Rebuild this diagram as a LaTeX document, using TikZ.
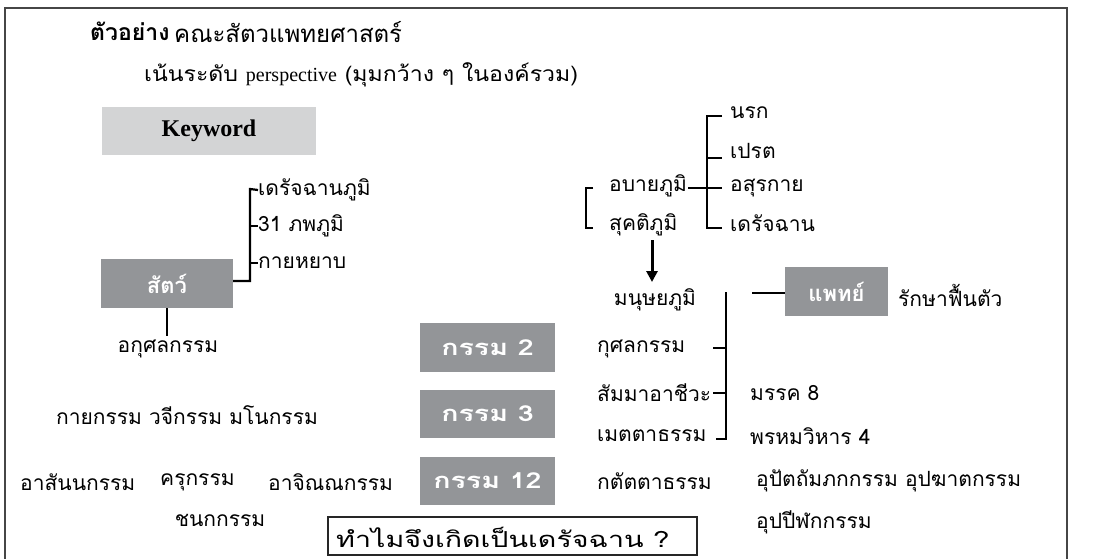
\documentclass[tikz,border=0pt]{standalone}
\usepackage{fontspec}
\usetikzlibrary{arrows.meta,calc}
\newfontfamily\thai[Script=Thai]{Loma}
\newfontfamily\thaiw[Script=Thai,FakeStretch=1.1]{Loma}
\newfontfamily\thaiww[Script=Thai,FakeStretch=1.3]{Loma}
\newfontfamily\latserif{Liberation Serif}
\definecolor{boxdark}{RGB}{147,149,152}
\definecolor{boxlight}{RGB}{211,212,213}
\definecolor{framegray}{RGB}{70,70,70}
\tikzset{
  txt/.style={inner sep=0pt, font=\thai\fontsize{21}{23}\selectfont},
  darkbox/.style={fill=boxdark, text=white, inner sep=0pt, font=\thai\bfseries\fontsize{22}{24}\selectfont},
  karmabox/.style={darkbox, font=\thaiww\bfseries\fontsize{22}{24}\selectfont},
  brk/.style={line width=2.2pt, black},
}
\begin{document}
\begin{tikzpicture}[x=1pt,y=-1pt]
\useasboundingbox (0,0) rectangle (1093,559);
% frame
\draw[framegray, line width=1.5pt] (5,570) -- (5,8) -- (1067,8) -- (1067,570);
% title
\node[txt, anchor=west, font=\thai\bfseries\fontsize{23}{25}\selectfont] (t1) at (90,31) {ตัวอย่าง};
\node[txt, anchor=west, font=\thai\fontsize{24}{26}\selectfont] (t2) at (174,32) {คณะสัตวแพทยศาสตร์};
\node[txt, anchor=west, font=\thaiw\fontsize{21}{23}\selectfont] (t3) at (144,75) {เน้นระดับ {\latserif\fontsize{20}{22}\selectfont perspective} (มุมกว้าง ๆ ในองค์รวม)};
% keyword
\node[fill=boxlight, minimum width=214pt, minimum height=48pt, inner sep=0pt, font=\latserif\bfseries\fontsize{24}{26}\selectfont] (kw) at (209,131) {Keyword};
% animal
\node[darkbox, minimum width=132pt, minimum height=49pt] (satw) at (167,283.5) {สัตว์};
\coordinate (lb0) at (250,281);
\coordinate (lbT) at (250,189);
\node[txt, anchor=west] (l1) at (258,190) {เดรัจฉานภูมิ};
\node[txt, anchor=west] (l2) at (258,226) {31 ภพภูมิ};
\node[txt, anchor=west] (l3) at (258,263) {กายหยาบ};
\draw[brk] (satw.east |- lb0) -- (lb0) -- (lbT) -- (l1.west);
\draw[brk] (lbT |- l2.west) -- (l2.west);
\draw[brk] (lbT |- l3.west) -- (l3.west);
\node[txt] (akusala) at (168,349) {อกุศลกรรม};
\draw[brk] (satw.south) -- (satw.south |- 0,336);
% right top
\node[txt, anchor=west] (apaya) at (609,186) {อบายภูมิ};
\node[txt, anchor=west] (sukati) at (609,225) {สุคติภูมิ};
\coordinate (rb1) at (586,188);
\coordinate (rb2) at (586,228);
\draw[brk] ($(rb1)+(7,0)$) -- (rb1) -- (rb2) -- ++(7,0);
\node[txt, anchor=west] (n1) at (730,113) {นรก};
\node[txt, anchor=west] (n2) at (730,151) {เปรต};
\node[txt, anchor=west] (n3) at (730,188) {อสุรกาย};
\node[txt, anchor=west] (n4) at (730,223) {เดรัจฉาน};
\coordinate (vb1) at (707,116);
\coordinate (vb2) at (707,228);
\draw[brk] (722,116) -- (vb1) -- (vb2) -- (722,228);
\draw[brk] (707,158) -- (722,158);
\draw[line width=1.6pt] ($(apaya.east)+(1,2)$) -- (722,188);
% arrow
\node[txt] (manus) at (655,300) {มนุษยภูมิ};
\coordinate (arrTop) at (652,240);
\draw[line width=3pt, -{Triangle[length=11pt,width=11pt]}] (arrTop) -- (652,282);
% big bracket
\node[txt, anchor=west] (k1) at (597,349) {กุศลกรรม};
\node[txt, anchor=west] (k2) at (597,393) {สัมมาอาชีวะ};
\node[txt, anchor=west] (k3) at (597,436) {เมตตาธรรม};
\node[txt, anchor=west] (k4) at (597,481) {กตัตตาธรรม};
\coordinate (bbT) at (726,292);
\coordinate (bbB) at (726,439);
\draw[brk] (bbT) -- (bbB) -- (716,439);
\draw[brk] (713,348) -- (726,348);
\draw[brk] (713,393) -- (726,393);
% doctor
\node[darkbox, minimum width=103pt, minimum height=49pt] (vet) at (836.5,291.5) {แพทย์};
\coordinate (vl) at (752,293);
\draw[line width=2pt] (vl) -- (vet.west |- vl);
\node[txt, anchor=west] (heal) at (898,295) {รักษาฟื้นตัว};
\node[txt, anchor=west] (r1) at (750,393) {มรรค 8};
\node[txt, anchor=west] (r2) at (750,436) {พรหมวิหาร 4};
\node[txt, anchor=west] (r3) at (756,481) {อุปัตถัมภกกรรม อุปฆาตกรรม};
\node[txt, anchor=west] (r4) at (756,522) {อุปปีฬกกรรม};
% karma boxes
\node[karmabox, minimum width=135pt, minimum height=49pt] (g2) at (487.5,347.5) {กรรม 2};
\node[karmabox, minimum width=135pt, minimum height=48pt] (g3) at (487.5,414) {กรรม 3};
\node[karmabox, minimum width=135pt, minimum height=48pt] (g12) at (487.5,481) {กรรม 12};
\node[txt] (kaya) at (187,415) {กายกรรม วจีกรรม มโนกรรม};
\node[txt, anchor=west] (a1) at (20,482) {อาสันนกรรม};
\node[txt, anchor=west] (a2) at (160,482) {ครุกรรม};
\node[txt, anchor=west] (a3) at (268,482) {อาจิณณกรรม};
\node[txt] (a4) at (220,520) {ชนกกรรม};
% question
\node[draw=black!85, line width=2pt, minimum width=369pt, minimum height=38pt, inner sep=0pt] (q) at (512.5,536) {};
\node[txt, anchor=west, font=\thaiww\fontsize{22}{25}\selectfont] (qt) at ($(q.west)+(9,1)$) {ทำไมจึงเกิดเป็นเดรัจฉาน ?};
\end{tikzpicture}
\end{document}
